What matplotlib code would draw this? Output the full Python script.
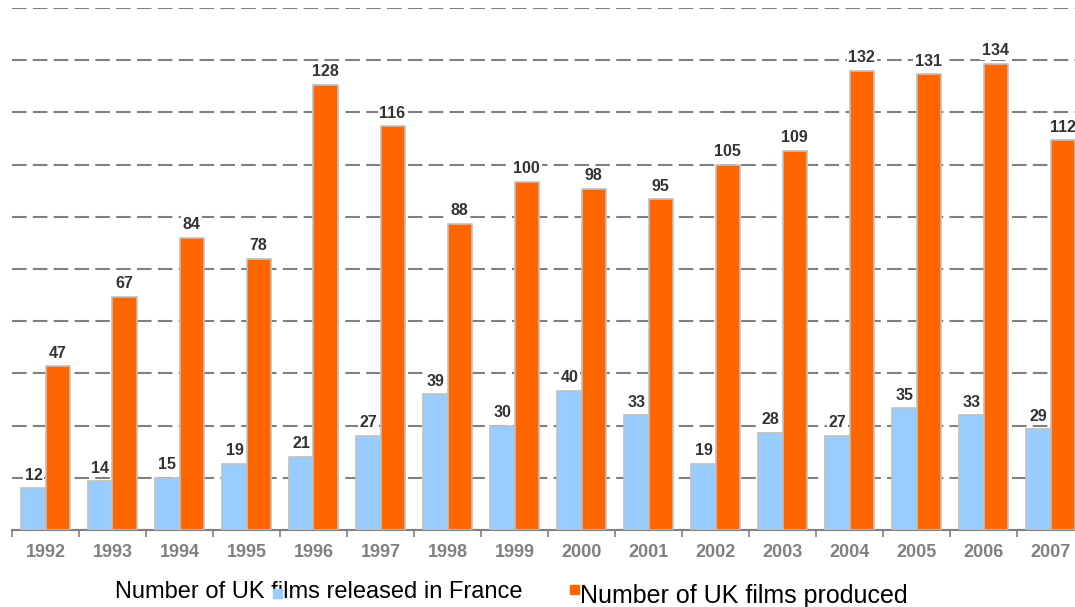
import numpy as np
import matplotlib
matplotlib.use("Agg")
import matplotlib.pyplot as plt
from matplotlib.patches import Rectangle

plt.rcParams['font.family'] = ['Liberation Sans', 'DejaVu Sans']

years = ["1992", "1993", "1994", "1995", "1996", "1997", "1998", "1999",
         "2000", "2001", "2002", "2003", "2004", "2005", "2006", "2007"]
released_france = [12, 14, 15, 19, 21, 27, 39, 30, 40, 33, 19, 28, 27, 35, 33, 29]
produced = [47, 67, 84, 78, 128, 116, 88, 100, 98, 95, 105, 109, 132, 131, 134, 112]

blue = "#99CCFF"
orange = "#FF6600"

W, H = 1075, 607
fig = plt.figure(figsize=(W / 100, H / 100), dpi=100)
# axes runs a bit past the right edge, like the original (2007 is clipped)
ax = fig.add_axes([12 / W, (H - 530) / H, 16 * 67 / W, (530 - 8) / H])

x = np.arange(len(years))
bw = 0.36
b1 = ax.bar(x - bw / 2, released_france, bw, color=blue, edgecolor="#C0C0C0", linewidth=1.2, zorder=3)
b2 = ax.bar(x + bw / 2, produced, bw, color=orange, edgecolor="#C0C0C0", linewidth=1.2, zorder=3)

for bars in (b1, b2):
    for r in bars:
        ax.annotate(str(int(r.get_height())), (r.get_x() + r.get_width() / 2, r.get_height()),
                    xytext=(0, 4), textcoords="offset points", ha="center", va="bottom",
                    fontsize=11.5, fontweight="bold", color="#333333", zorder=4,
                    bbox=dict(boxstyle="square,pad=0.1", fc="white", ec="none"), annotation_clip=False)

ax.set_xlim(-0.5, len(years) - 0.5)
ax.set_ylim(0, 150)
ax.set_yticks(np.arange(0, 151, 15))
ax.yaxis.grid(True, linestyle=(0, (7, 3)), color="#808080", linewidth=1.5, zorder=0)
ax.tick_params(axis="y", left=False, labelleft=False)

ax.set_xticks(x)
ax.set_xticklabels(years, fontsize=13, fontweight="bold", color="#808080")
ax.tick_params(axis="x", length=0, pad=10)
ax.set_xticks(np.arange(-0.5, len(years), 1), minor=True)
ax.tick_params(axis="x", which="minor", length=5, color="#808080", width=1.2)

for s in ["top", "right", "left"]:
    ax.spines[s].set_visible(False)
ax.spines["bottom"].set_color("#808080")
ax.spines["bottom"].set_linewidth(1.5)

# legend, placed as in the original
fig.text(115 / W, 1 - 592 / H, "Number of UK films released in France", fontsize=17,
         va="center", ha="left", color="black")
fig.patches.append(Rectangle((273 / W, 1 - 598 / H), 9 / W, 9 / H, transform=fig.transFigure,
                             color=blue, zorder=5))
fig.patches.append(Rectangle((570 / W, 1 - 594 / H), 9 / W, 9 / H, transform=fig.transFigure,
                             color=orange, zorder=5))
fig.text(580 / W, 1 - 596 / H, "Number of UK films produced", fontsize=18,
         va="center", ha="left", color="black")

fig.savefig("out.png", dpi=100)
